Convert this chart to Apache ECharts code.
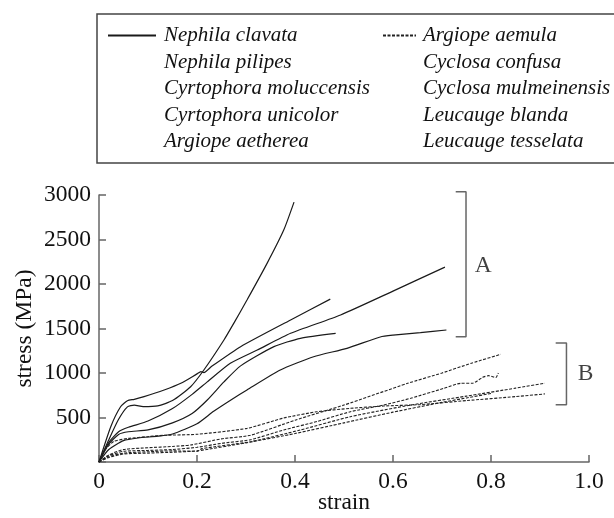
<!DOCTYPE html>
<html>
<head>
<meta charset="utf-8">
<title>stress strain</title>
<script src="https://cdn.jsdelivr.net/npm/echarts@6/dist/echarts.min.js"></script>
<style>
  html, body { margin: 0; padding: 0; background: #fff; }
  #chart { width: 614px; height: 518px; }
</style>
</head>
<body>
<div id="chart"></div>
<script>
// group A - solid lines  [strain, stress MPa]
var nephilaClavata = [[0,0],[0.02,250],[0.04,480],[0.058,620],[0.072,640],[0.09,622],[0.12,630],[0.15,690],[0.187,846],[0.214,1034],[0.255,1371],[0.275,1558],[0.302,1820],[0.343,2232],[0.377,2606],[0.398,2920]];
var nephilaPilipes = [[0,0],[0.024,397],[0.044,621],[0.058,689],[0.072,704],[0.092,734],[0.133,809],[0.167,884],[0.2,990],[0.208,1015],[0.214,1005],[0.23,1075],[0.289,1296],[0.391,1596],[0.472,1830]];
var cyrtophoraMoluccensis = [[0,0],[0.02,220],[0.04,340],[0.06,390],[0.1,460],[0.15,600],[0.19,760],[0.221,900],[0.268,1109],[0.323,1258],[0.391,1446],[0.493,1652],[0.6,1920],[0.706,2190]];
var cyrtophoraUnicolor = [[0,0],[0.02,200],[0.04,310],[0.06,340],[0.1,360],[0.15,440],[0.19,545],[0.221,697],[0.255,900],[0.289,1080],[0.357,1296],[0.411,1390],[0.483,1446]];
var argiopeAetherea = [[0,0],[0.02,140],[0.05,240],[0.08,270],[0.12,290],[0.15,315],[0.2,430],[0.234,570],[0.27,700],[0.302,810],[0.37,1034],[0.438,1183],[0.506,1277],[0.574,1405],[0.6,1425],[0.656,1453],[0.709,1483]];

// group B - dotted lines
var argiopeAemula = [[0,0],[0.02,80],[0.05,140],[0.1,160],[0.15,175],[0.187,191],[0.25,260],[0.309,300],[0.4,470],[0.5,640],[0.63,884],[0.7,1000],[0.76,1110],[0.82,1210]];
var cyclosaConfusa = [[0,0],[0.02,70],[0.05,120],[0.1,130],[0.15,140],[0.2,165],[0.25,210],[0.309,250],[0.377,360],[0.445,455],[0.513,565],[0.581,640],[0.636,716],[0.704,828],[0.738,884],[0.762,884],[0.783,951],[0.795,970],[0.802,960],[0.81,950],[0.815,1000]];
var cyclosaMulmeinensis = [[0,0],[0.02,60],[0.05,100],[0.1,115],[0.15,125],[0.2,120],[0.21,150],[0.309,228],[0.411,360],[0.513,509],[0.636,640],[0.75,740],[0.85,830],[0.91,885]];
var leucaugeBlanda = [[0,0],[0.01,120],[0.03,230],[0.06,265],[0.1,285],[0.132,300],[0.2,311],[0.302,378],[0.377,494],[0.445,565],[0.513,603],[0.581,629],[0.656,645],[0.75,690],[0.85,735],[0.91,765]];
var leucaugeTesselata = [[0,0],[0.02,50],[0.05,90],[0.1,100],[0.15,110],[0.2,125],[0.3,215],[0.4,320],[0.5,440],[0.6,560],[0.7,670],[0.75,720],[0.8,770]];

var solidNames = ['Nephila clavata', 'Nephila pilipes', 'Cyrtophora moluccensis', 'Cyrtophora unicolor', 'Argiope aetherea'];
var dottedNames = ['Argiope aemula', 'Cyclosa confusa', 'Cyclosa mulmeinensis', 'Leucauge blanda', 'Leucauge tesselata'];
var solidData = [nephilaClavata, nephilaPilipes, cyrtophoraMoluccensis, cyrtophoraUnicolor, argiopeAetherea];
var dottedData = [argiopeAemula, cyclosaConfusa, cyclosaMulmeinensis, leucaugeBlanda, leucaugeTesselata];

// brackets A and B (data coords)
var bracketA = [[0.728,3037],[0.749,3037],[0.749,1408],[0.728,1408]];
var bracketB = [[0.932,1337],[0.954,1337],[0.954,644],[0.932,644]];
var groupLabels = [[0.784,2202,'A'],[0.993,989,'B']];

var xTicks = [0, 0.2, 0.4, 0.6, 0.8, 1.0];

var FONT = 'Liberation Serif';
var axisColor = '#666';
var inkColor = '#111';

function legendItems (names) {
    // only the first entry of each column shows the line sample
    return names.map(function (n, i) {
        if (i === 0) return { name: n };
        return { name: n, lineStyle: { opacity: 0 } };
    });
}

var series = [];
solidNames.forEach(function (n, i) {
    series.push({
        name: n, type: 'line', data: solidData[i], symbol: 'none', symbolSize: 0, smooth: 0.2,
        lineStyle: { color: '#1a1a1a', width: 1.2, type: 'solid' }, itemStyle: { color: '#1a1a1a' }
    });
});
dottedNames.forEach(function (n, i) {
    series.push({
        name: n, type: 'line', data: dottedData[i], symbol: 'none', symbolSize: 0, smooth: 0.2,
        lineStyle: { color: '#222', width: 1.1, type: [3, 1.5] }, itemStyle: { color: '#222' }
    });
});
[bracketA, bracketB].forEach(function (b) {
    series.push({
        type: 'line', data: b, symbol: 'none', clip: false, silent: true,
        lineStyle: { color: axisColor, width: 1.5 }
    });
});
series.push({
    type: 'scatter', data: groupLabels, symbolSize: 0, silent: true,
    label: {
        show: true, position: 'inside', color: inkColor, fontFamily: FONT, fontSize: 23.5,
        formatter: function (p) { return p.data[2]; }
    }
});

var legendText = { fontFamily: FONT, fontStyle: 'italic', fontSize: 21, color: inkColor, lineHeight: 21 };

var option = {
    animation: false,
    backgroundColor: '#fff',
    textStyle: { fontFamily: FONT },
    graphic: [{
        type: 'rect', shape: { x: 97, y: 14, width: 540, height: 149 },
        style: { fill: 'none', stroke: '#444', lineWidth: 1.5 }
    }],
    legend: [
        {
            data: legendItems(solidNames), orient: 'vertical', left: 107, top: 25,
            itemWidth: 48, itemHeight: 10, itemGap: 5.5, padding: 0,
            itemStyle: { opacity: 0 },
            textStyle: Object.assign({ padding: [0, 0, 0, 3] }, legendText), selectedMode: false
        },
        {
            data: legendItems(dottedNames), orient: 'vertical', left: 382, top: 25,
            itemWidth: 33, itemHeight: 10, itemGap: 5.5, padding: 0,
            itemStyle: { opacity: 0 },
            textStyle: Object.assign({ padding: [0, 0, 0, 2] }, legendText), selectedMode: false
        }
    ],
    // fixed plot box, no auto shrinking for labels
    grid: { left: 99, top: 195, width: 490, height: 267, containLabel: false, outerBoundsMode: 'none' },
    xAxis: {
        type: 'value', min: 0, max: 1, interval: 0.2,
        name: 'strain', nameLocation: 'middle', nameGap: 29, nameMoveOverlap: false,
        nameTextStyle: { fontFamily: FONT, fontSize: 23.5, color: inkColor },
        axisLine: { show: true, lineStyle: { color: axisColor, width: 1.5 } },
        axisTick: { show: true, inside: true, length: 7, lineStyle: { color: axisColor, width: 1.5 } },
        axisLabel: {
            margin: 8, fontFamily: FONT, fontSize: 23.5, color: inkColor,
            customValues: xTicks,
            formatter: function (v) { return v === 0 ? '0' : v.toFixed(1); }
        },
        splitLine: { show: false }
    },
    yAxis: {
        type: 'value', min: 0, max: 3000, interval: 500,
        name: 'stress (MPa)', nameLocation: 'middle', nameGap: 62, nameMoveOverlap: false,
        nameTextStyle: { fontFamily: FONT, fontSize: 23.5, color: inkColor },
        axisLine: { show: true, lineStyle: { color: axisColor, width: 1.5 } },
        axisTick: { show: true, inside: true, length: 7, lineStyle: { color: axisColor, width: 1.5 } },
        axisLabel: {
            margin: 8, fontFamily: FONT, fontSize: 23.5, color: inkColor,
            formatter: function (v) { return v === 0 ? '' : String(v); }
        },
        splitLine: { show: false }
    },
    series: series
};

var chart = echarts.init(document.getElementById('chart'));
chart.setOption(option);
</script>
</body>
</html>
